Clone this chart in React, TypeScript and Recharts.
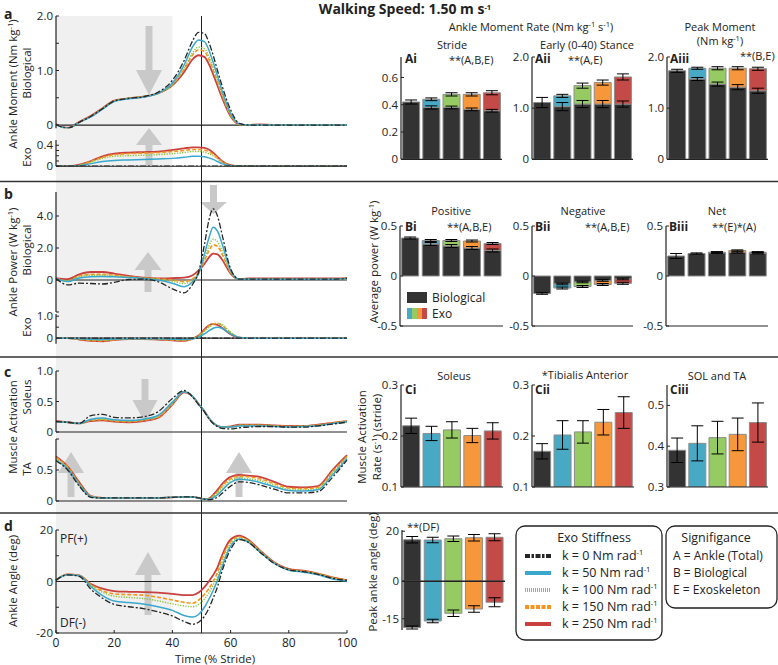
import React from "react";
import {
  LineChart,
  Line,
  XAxis,
  YAxis,
  ReferenceLine,
  BarChart,
  Bar,
  Cell,
  ErrorBar,
} from "recharts";

const FONT = '"Open Sans", "Noto Sans", sans-serif';
const INK = "#222";
const EDGE = "#8c8c8c";

const stride = [0, 4, 8, 12, 16, 20, 25, 30, 35, 40, 44, 47, 49, 51, 52.5, 54, 55.5, 57, 60, 63, 66, 70, 75, 80, 85, 90, 95, 100];

const stiffness = ["k = 0", "k = 50", "k = 100", "k = 150", "k = 250"];

// each list: k=0, 50, 100, 150, 250
const momentBio = [
  [0.01, -0.06, 0.05, 0.16, 0.3, 0.44, 0.49, 0.52, 0.6, 0.82, 1.18, 1.55, 1.7, 1.68, 1.52, 1.28, 1.0, 0.73, 0.28, 0.03, 0, 0, 0, 0, 0, 0, 0, 0],
  [0.01, -0.06, 0.05, 0.15, 0.29, 0.43, 0.48, 0.51, 0.58, 0.77, 1.1, 1.44, 1.56, 1.53, 1.38, 1.15, 0.9, 0.64, 0.22, 0.02, 0, 0, 0, 0, 0, 0, 0, 0],
  [0.01, -0.06, 0.05, 0.16, 0.3, 0.44, 0.49, 0.52, 0.58, 0.75, 1.04, 1.33, 1.43, 1.4, 1.26, 1.05, 0.82, 0.58, 0.19, 0.01, 0, 0, 0, 0, 0, 0, 0, 0],
  [0.01, -0.06, 0.05, 0.16, 0.3, 0.44, 0.49, 0.52, 0.58, 0.74, 1.02, 1.29, 1.38, 1.35, 1.21, 1.01, 0.79, 0.56, 0.18, 0.01, 0, 0, 0, 0, 0, 0, 0, 0],
  [0.02, -0.05, 0.06, 0.17, 0.31, 0.45, 0.49, 0.52, 0.58, 0.73, 0.97, 1.21, 1.28, 1.25, 1.12, 0.93, 0.72, 0.51, 0.16, 0.01, 0, 0.01, 0, 0, 0, 0, 0, 0],
];
const momentExo = [
  [0, 0, 0, 0, 0, 0, 0, 0, 0, 0, 0, 0, 0, 0, 0, 0, 0, 0, 0, 0, 0, 0, 0, 0, 0, 0, 0, 0],
  [0, 0, 0.01, 0.05, 0.09, 0.11, 0.12, 0.13, 0.14, 0.15, 0.17, 0.19, 0.19, 0.18, 0.16, 0.13, 0.09, 0.05, 0.01, 0, 0, 0, 0, 0, 0, 0, 0, 0],
  [0, 0, 0.02, 0.08, 0.15, 0.19, 0.2, 0.21, 0.22, 0.24, 0.26, 0.28, 0.28, 0.27, 0.24, 0.2, 0.14, 0.08, 0.01, 0, 0, 0, 0, 0, 0, 0, 0, 0],
  [0, 0, 0.02, 0.09, 0.17, 0.22, 0.24, 0.25, 0.26, 0.28, 0.3, 0.32, 0.32, 0.31, 0.28, 0.23, 0.16, 0.09, 0.01, 0, 0, 0, 0, 0, 0, 0, 0, 0],
  [0, 0, 0.03, 0.1, 0.19, 0.24, 0.26, 0.27, 0.28, 0.31, 0.34, 0.36, 0.36, 0.35, 0.32, 0.26, 0.18, 0.1, 0.02, 0, 0, 0, 0, 0, 0, 0, 0, 0],
];
const powerBio = [
  [0.1, -0.3, -0.2, -0.22, -0.25, -0.15, 0.03, 0.05, -0.1, -0.55, -0.8, -0.25, 0.5, 2.2, 3.7, 4.45, 4.0, 2.9, 0.7, 0.05, 0.05, 0.05, 0.05, 0.05, 0.05, 0.05, 0.05, 0.1],
  [0.1, -0.1, 0.12, 0.2, 0.22, 0.2, 0.15, 0.1, 0, -0.2, -0.42, -0.1, 0.4, 1.6, 2.6, 3.3, 3.05, 2.3, 0.6, 0.05, 0.05, 0.05, 0.05, 0.05, 0.05, 0.05, 0.05, 0.1],
  [0.1, -0.05, 0.2, 0.3, 0.3, 0.25, 0.18, 0.12, 0.05, -0.08, -0.22, 0, 0.45, 1.35, 2.1, 2.55, 2.4, 1.85, 0.5, 0.05, 0.05, 0.05, 0.05, 0.05, 0.05, 0.05, 0.05, 0.1],
  [0.1, -0.05, 0.25, 0.35, 0.35, 0.3, 0.2, 0.12, 0.08, 0, -0.1, 0.08, 0.45, 1.2, 1.8, 2.2, 2.1, 1.65, 0.45, 0.05, 0.05, 0.05, 0.05, 0.05, 0.05, 0.05, 0.05, 0.1],
  [0.12, 0.05, 0.35, 0.5, 0.5, 0.4, 0.25, 0.15, 0.1, 0.12, 0.15, 0.3, 0.6, 1.0, 1.4, 1.65, 1.6, 1.3, 0.4, 0.05, 0.1, 0.1, 0.1, 0.1, 0.1, 0.1, 0.1, 0.12],
];
const powerExo = [
  [0, 0, 0, 0, 0, 0, 0, 0, 0, 0, 0, 0, 0, 0, 0, 0, 0, 0, 0, 0, 0, 0, 0, 0, 0, 0, 0, 0],
  [0, 0, -0.02, -0.05, -0.06, -0.04, -0.02, -0.02, -0.03, -0.05, -0.06, -0.03, 0.05, 0.2, 0.33, 0.45, 0.5, 0.45, 0.2, 0.03, 0, 0, 0, 0, 0, 0, 0, 0],
  [0, 0, -0.04, -0.08, -0.1, -0.06, -0.03, -0.03, -0.04, -0.07, -0.08, -0.03, 0.08, 0.3, 0.48, 0.62, 0.68, 0.62, 0.28, 0.04, 0, 0, 0, 0, 0, 0, 0, 0],
  [0, 0, -0.05, -0.1, -0.12, -0.07, -0.03, -0.03, -0.05, -0.08, -0.1, -0.03, 0.1, 0.35, 0.55, 0.66, 0.67, 0.58, 0.24, 0.03, 0, 0, 0, 0, 0, 0, 0, 0],
  [0, 0, -0.06, -0.12, -0.14, -0.08, -0.04, -0.04, -0.06, -0.1, -0.12, -0.02, 0.12, 0.4, 0.58, 0.64, 0.6, 0.48, 0.18, 0.02, 0, 0, 0, 0, 0, 0, 0, 0],
];
const soleus = [
  [0.17, 0.16, 0.14, 0.27, 0.29, 0.24, 0.23, 0.25, 0.33, 0.55, 0.68, 0.57, 0.45, 0.33, 0.22, 0.14, 0.09, 0.06, 0.05, 0.07, 0.08, 0.09, 0.09, 0.08, 0.08, 0.1, 0.13, 0.16],
  [0.17, 0.16, 0.14, 0.21, 0.23, 0.2, 0.19, 0.21, 0.27, 0.49, 0.66, 0.58, 0.46, 0.34, 0.23, 0.15, 0.1, 0.08, 0.08, 0.1, 0.1, 0.1, 0.09, 0.08, 0.09, 0.1, 0.14, 0.17],
  [0.17, 0.16, 0.14, 0.2, 0.21, 0.19, 0.18, 0.2, 0.25, 0.47, 0.66, 0.58, 0.46, 0.34, 0.23, 0.15, 0.1, 0.08, 0.08, 0.11, 0.11, 0.11, 0.1, 0.09, 0.09, 0.11, 0.14, 0.17],
  [0.17, 0.16, 0.14, 0.19, 0.2, 0.18, 0.17, 0.19, 0.24, 0.46, 0.66, 0.58, 0.46, 0.34, 0.23, 0.15, 0.1, 0.08, 0.08, 0.11, 0.11, 0.11, 0.1, 0.09, 0.1, 0.11, 0.15, 0.18],
  [0.18, 0.16, 0.14, 0.18, 0.19, 0.17, 0.16, 0.18, 0.23, 0.45, 0.65, 0.58, 0.46, 0.34, 0.23, 0.15, 0.1, 0.08, 0.09, 0.12, 0.12, 0.12, 0.11, 0.1, 0.1, 0.12, 0.15, 0.18],
];
const tibialis = [
  [0.65, 0.5, 0.24, 0.06, 0.05, 0.05, 0.05, 0.05, 0.05, 0.06, 0.065, 0.065, 0.05, 0.03, 0.02, 0.03, 0.06, 0.12, 0.24, 0.31, 0.3, 0.26, 0.19, 0.13, 0.13, 0.15, 0.38, 0.66],
  [0.66, 0.52, 0.26, 0.07, 0.05, 0.05, 0.05, 0.05, 0.05, 0.06, 0.065, 0.065, 0.05, 0.03, 0.03, 0.05, 0.1, 0.17, 0.3, 0.35, 0.34, 0.3, 0.23, 0.17, 0.16, 0.18, 0.42, 0.68],
  [0.68, 0.53, 0.27, 0.07, 0.05, 0.05, 0.05, 0.05, 0.05, 0.06, 0.065, 0.065, 0.05, 0.03, 0.03, 0.07, 0.13, 0.21, 0.33, 0.37, 0.36, 0.33, 0.25, 0.19, 0.18, 0.2, 0.45, 0.7],
  [0.7, 0.55, 0.28, 0.08, 0.05, 0.05, 0.05, 0.05, 0.05, 0.06, 0.065, 0.065, 0.05, 0.03, 0.04, 0.08, 0.15, 0.24, 0.36, 0.4, 0.39, 0.36, 0.28, 0.21, 0.2, 0.22, 0.47, 0.72],
  [0.72, 0.56, 0.3, 0.08, 0.05, 0.05, 0.05, 0.05, 0.05, 0.06, 0.065, 0.065, 0.05, 0.03, 0.04, 0.1, 0.18, 0.27, 0.39, 0.42, 0.41, 0.39, 0.31, 0.23, 0.22, 0.24, 0.5, 0.74],
];
const angle = [
  [0.5, 2.6, 2.0, -3, -6.5, -8.9, -9.8, -10.5, -11.8, -13.4, -15.5, -16.6, -15.8, -13.5, -10.5, -6.5, -2, 3.8, 12.5, 16.3, 15.3, 11.5, 7, 4.5, 3.8, 2.8, 1.3, 0.4],
  [0.5, 2.6, 2.2, -2, -5.5, -7.6, -8.2, -8.7, -9.8, -11.2, -13.2, -13.8, -12.8, -10, -7, -3.5, 0.5, 5.5, 13.7, 16.5, 15.3, 11.5, 7, 4.4, 3.6, 2.6, 1, 0.2],
  [0.5, 2.7, 2.3, -1.5, -4.2, -5.7, -6.2, -6.6, -7.5, -8.7, -9.5, -9.8, -8.9, -6.8, -4.5, -1.5, 2, 7, 14.6, 17, 15.7, 11.8, 7.2, 4.6, 3.9, 2.9, 1.4, 0.4],
  [0.5, 2.7, 2.3, -1.2, -3.6, -4.8, -5.1, -5.3, -6.1, -7.2, -8.1, -8.4, -7.2, -5, -2.8, 0, 3.5, 8.5, 15.4, 17.3, 15.9, 12, 7.3, 4.7, 4, 3, 1.5, 0.5],
  [0.6, 2.8, 2.4, -1, -2.8, -3.7, -4, -4.1, -4.3, -4.8, -5.3, -5.3, -4.3, -2.2, 0, 2.5, 5.5, 10, 16.3, 17.8, 16.3, 12.2, 7.5, 4.9, 4.2, 3.1, 1.6, 0.5],
];

// bar panels
const strideRateBio = [0.42, 0.38, 0.38, 0.366, 0.356];
const strideRateExo = [0, 0.06, 0.096, 0.11, 0.132];
const strideRateBioErr = [0.015, 0.012, 0.01, 0.01, 0.01];
const strideRateExoErr = [0, 0.01, 0.012, 0.012, 0.015];
const earlyRateBio = [1.11, 1.03, 1.08, 1.08, 1.08];
const earlyRateExo = [0, 0.21, 0.36, 0.42, 0.53];
const earlyRateBioErr = [0.1, 0.08, 0.07, 0.07, 0.06];
const earlyRateExoErr = [0, 0.03, 0.05, 0.05, 0.06];
const peakMomBio = [1.73, 1.57, 1.47, 1.41, 1.34];
const peakMomExo = [0, 0.21, 0.31, 0.37, 0.43];
const peakMomBioErr = [0.03, 0.03, 0.04, 0.05, 0.05];
const peakMomExoErr = [0, 0.02, 0.03, 0.03, 0.03];
const posPowBio = [0.38, 0.32, 0.3, 0.28, 0.255];
const posPowExo = [0, 0.035, 0.055, 0.07, 0.07];
const posPowBioErr = [0.01, 0.015, 0.015, 0.015, 0.015];
const posPowExoErr = [0, 0.01, 0.01, 0.01, 0.01];
const negPowBio = [-0.175, -0.08, -0.06, -0.045, -0.03];
const negPowExo = [0, -0.04, -0.045, -0.04, -0.043];
const negPowBioErr = [0.008, 0.008, 0.008, 0.008, 0.008];
const negPowExoErr = [0, 0.01, 0.01, 0.01, 0.01];
const netPowBio = [0.2, 0.225, 0.232, 0.235, 0.228];
const netPowExo = [0, 0, 0.006, 0.02, 0.01];
const netPowBioErr = [0.025, 0.006, 0.006, 0.006, 0.006];
const netPowExoErr = [0, 0, 0.006, 0.006, 0.006];
const solRate = [0.22, 0.205, 0.212, 0.201, 0.21];
const solRateErr = [0.015, 0.014, 0.016, 0.014, 0.016];
const taRate = [0.17, 0.202, 0.208, 0.227, 0.246];
const taRateErr = [0.015, 0.028, 0.022, 0.025, 0.031];
const bothRate = [0.39, 0.407, 0.421, 0.429, 0.458];
const bothRateErr = [0.03, 0.043, 0.04, 0.04, 0.048];
const peakPF = [16.6, 16.5, 17, 17.4, 17.6];
const peakDF = [-18.5, -15.9, -12.8, -11.1, -8.4];
const peakPFErr = [1.3, 1.1, 1.1, 1.3, 1.4];
const peakDFErr = [0.6, 0.7, 1.3, 1.3, 1.8];

const LINE_STYLES = [
  { color: "#262626", dash: "6 2 2 2", width: 1.3 },
  { color: "#3aa7cd", dash: undefined, width: 1.5 },
  { color: "#8cc63f", dash: "1.3 1.3", width: 1.4 },
  { color: "#f7941e", dash: "4 2", width: 1.6 },
  { color: "#c8413e", dash: undefined, width: 1.8 },
];
const BAR_COLORS = ["#333333", "#48a9c5", "#96cb63", "#f7973b", "#c34a47"];

type Rect = { x0: number; x1: number; y0: number; y1: number };
const AXW = 40;
const AXH = 20;
const PAD = 10;

// place a chart so that its plot area lands on the rect (page px)
function frame(r: Rect, right = 6) {
  return {
    style: { position: "absolute", left: r.x0 - AXW, top: r.y0 - PAD } as React.CSSProperties,
    w: r.x1 - r.x0 + AXW + right,
    h: r.y1 - r.y0 + AXH + 2 * PAD,
    m: { top: PAD, right, bottom: PAD, left: 0 },
  };
}

const one = (v: number) => (v === 0 ? "0" : v.toFixed(1));
const int = (v: number) => String(v);
const TICK = { fontSize: 11.5, fill: INK };

function yAxis(domain: number[], ticks: number[], labels: number[], fmt: (v: number) => string) {
  return (
    <YAxis
      type="number"
      domain={domain}
      ticks={ticks}
      interval={0}
      allowDataOverflow
      width={AXW}
      axisLine={{ stroke: INK, strokeWidth: 1.2 }}
      tickLine={{ stroke: INK }}
      tickSize={-3}
      tickMargin={6}
      tick={TICK}
      tickFormatter={(v: number) => (labels.includes(v) ? fmt(v) : "")}
    />
  );
}

function Trace(props: {
  rect: Rect;
  series: number[][];
  domain: number[];
  ticks: number[];
  labels: number[];
  fmt: (v: number) => string;
  zero?: boolean;
  baseAxis?: boolean;
  timeLabels?: boolean;
}) {
  const { rect, series, domain, ticks, labels, fmt, zero, baseAxis, timeLabels } = props;
  const b = frame(rect, 16);
  const rows = stride.map((t, i) => {
    const row: Record<string, number> = { t };
    series.forEach((s, j) => (row["s" + j] = s[i]));
    return row;
  });
  return (
    <div style={b.style}>
      <LineChart width={b.w} height={b.h} margin={b.m} data={rows}>
        <XAxis
          type="number"
          dataKey="t"
          domain={[0, 100]}
          ticks={[0, 20, 40, 60, 80, 100]}
          interval={0}
          height={AXH}
          axisLine={baseAxis ? { stroke: INK, strokeWidth: 1.2 } : false}
          tickLine={baseAxis ? { stroke: INK } : false}
          tickSize={-3}
          tickMargin={8}
          tick={timeLabels ? { fontSize: 12, fill: INK } : false}
        />
        {yAxis(domain, ticks, labels, fmt)}
        {zero && <ReferenceLine y={0} stroke={INK} strokeWidth={1.2} />}
        {[4, 3, 2, 1, 0].map((j) => (
          <Line
            key={j}
            dataKey={"s" + j}
            type="monotone"
            stroke={LINE_STYLES[j].color}
            strokeWidth={LINE_STYLES[j].width}
            strokeDasharray={LINE_STYLES[j].dash}
            dot={false}
            isAnimationActive={false}
          />
        ))}
      </LineChart>
    </div>
  );
}

function Stacked(props: {
  rect: Rect;
  bio: number[];
  exo: number[];
  bioErr: number[];
  exoErr: number[];
  domain: number[];
  ticks: number[];
  fmt: (v: number) => string;
}) {
  const { rect, bio, exo, bioErr, exoErr, domain, ticks, fmt } = props;
  const b = frame(rect);
  const rows = stiffness.map((k, i) => ({ k, bio: bio[i], exo: exo[i], bioErr: bioErr[i], exoErr: exoErr[i] }));
  return (
    <div style={b.style}>
      <BarChart width={b.w} height={b.h} margin={b.m} data={rows} barCategoryGap="8%">
        <XAxis dataKey="k" height={AXH} tick={false} axisLine={{ stroke: INK, strokeWidth: 1.2 }} tickLine={{ stroke: INK }} tickSize={-3} />
        {yAxis(domain, ticks, ticks, fmt)}
        <Bar dataKey="bio" stackId="s" fill="#333333" stroke={EDGE} isAnimationActive={false}>
          <ErrorBar dataKey="bioErr" width={6} stroke="#000" strokeWidth={1} />
        </Bar>
        <Bar dataKey="exo" stackId="s" stroke={EDGE} isAnimationActive={false}>
          {rows.map((_, i) => (
            <Cell key={i} fill={BAR_COLORS[i]} />
          ))}
          <ErrorBar dataKey="exoErr" width={6} stroke="#000" strokeWidth={1} />
        </Bar>
      </BarChart>
    </div>
  );
}

function Single(props: { rect: Rect; vals: number[]; errs: number[]; domain: number[]; ticks: number[] }) {
  const { rect, vals, errs, domain, ticks } = props;
  const b = frame(rect);
  const rows = stiffness.map((k, i) => ({ k, v: vals[i], e: errs[i] }));
  return (
    <div style={b.style}>
      <BarChart width={b.w} height={b.h} margin={b.m} data={rows} barCategoryGap="8%">
        <XAxis dataKey="k" height={AXH} tick={false} axisLine={{ stroke: INK, strokeWidth: 1.2 }} tickLine={{ stroke: INK }} tickSize={-3} />
        {yAxis(domain, ticks, ticks, one)}
        <Bar dataKey="v" stroke={EDGE} isAnimationActive={false}>
          {rows.map((_, i) => (
            <Cell key={i} fill={BAR_COLORS[i]} />
          ))}
          <ErrorBar dataKey="e" width={6} stroke="#000" strokeWidth={1} />
        </Bar>
      </BarChart>
    </div>
  );
}

function PeakAngle({ rect }: { rect: Rect }) {
  const b = frame(rect);
  const rows = stiffness.map((k, i) => ({ k, pf: peakPF[i], df: peakDF[i], pfe: peakPFErr[i], dfe: peakDFErr[i] }));
  return (
    <div style={b.style}>
      <BarChart width={b.w} height={b.h} margin={b.m} data={rows} barCategoryGap="8%" stackOffset="sign">
        <XAxis dataKey="k" height={AXH} tick={false} axisLine={false} tickLine={false} />
        {yAxis([-19.5, 20.5], [-15, 0, 20], [-15, 0, 20], int)}
        <Bar dataKey="pf" stackId="p" stroke={EDGE} isAnimationActive={false}>
          {rows.map((_, i) => (
            <Cell key={i} fill={BAR_COLORS[i]} />
          ))}
          <ErrorBar dataKey="pfe" width={6} stroke="#000" strokeWidth={1} />
        </Bar>
        <Bar dataKey="df" stackId="p" stroke={EDGE} isAnimationActive={false}>
          {rows.map((_, i) => (
            <Cell key={i} fill={BAR_COLORS[i]} />
          ))}
          <ErrorBar dataKey="dfe" width={6} stroke="#000" strokeWidth={1} />
        </Bar>
        <ReferenceLine y={0} stroke={INK} strokeWidth={1.5} />
      </BarChart>
    </div>
  );
}

function arrow(cx: number, tail: number, head: number, tip: number, hw = 13, sw = 3.5) {
  return [
    [cx - sw, tail],
    [cx + sw, tail],
    [cx + sw, head],
    [cx + hw, head],
    [cx, tip],
    [cx - hw, head],
    [cx - sw, head],
  ]
    .map((p) => p.join(","))
    .join(" ");
}

const sup = (s: string, tail = "", d = 4) => (
  <>
    <tspan dy={-d} fontSize={7.5}>
      {s}
    </tspan>
    <tspan dy={d}>{tail}</tspan>
  </>
);

function Rot({ x, y, children, size = 11.5 }: { x: number; y: number; children: React.ReactNode; size?: number }) {
  return (
    <text transform={`translate(${x},${y}) rotate(-90)`} textAnchor="middle" fontSize={size} fill={INK}>
      {children}
    </text>
  );
}

function T({ x, y, children, anchor = "middle", size = 11, bold = false }: any) {
  return (
    <text x={x} y={y} textAnchor={anchor} fontSize={size} fontWeight={bold ? 700 : 400} fill={INK}>
      {children}
    </text>
  );
}

const SHADE_X0 = 56;
const SHADE_X1 = 172.4;
const MID_X = 201.5;

export default function App() {
  const legendRows = [0, 1, 2, 3, 4];
  const stiffVals = ["0", "50", "100", "150", "250"];
  return (
    <div style={{ position: "absolute", left: 0, top: 0, width: 778, height: 665, background: "#fff", fontFamily: FONT, color: INK }}>
      <svg width={778} height={665} style={{ position: "absolute", left: 0, top: 0 }}>
        <rect x={SHADE_X0} y={16} width={SHADE_X1 - SHADE_X0} height={617} fill="#f0f0f0" />
        <g fill="#c9c9c9">
          <polygon points={arrow(149, 26, 70, 95)} />
          <polygon points={arrow(149, 165, 145, 128)} />
          <polygon points={arrow(213.5, 185, 202, 214, 13.5)} />
          <polygon points={arrow(148, 292, 270, 252, 13.5)} />
          <polygon points={arrow(145, 379, 400, 423, 12.5)} />
          <polygon points={arrow(71, 497, 473, 452)} />
          <polygon points={arrow(239, 497, 473, 452)} />
          <polygon points={arrow(148, 615, 575, 552)} />
        </g>
        <line x1={MID_X} x2={MID_X} y1={16} y2={633} stroke={INK} strokeWidth={1} />
      </svg>

      <Trace rect={{ x0: 56, x1: 347, y0: 16, y1: 128.3 }} series={momentBio} domain={[-0.06, 2]} ticks={[0, 0.5, 1, 1.5, 2]} labels={[0, 1, 2]} fmt={one} zero />
      <Trace rect={{ x0: 56, x1: 347, y0: 139.75, y1: 166 }} series={momentExo} domain={[0, 0.5]} ticks={[0, 0.1, 0.2, 0.3, 0.4]} labels={[0, 0.4]} fmt={one} baseAxis />
      <Trace rect={{ x0: 56, x1: 347, y0: 192, y1: 312 }} series={powerBio} domain={[-2, 5.5]} ticks={[-2, 0, 2, 4]} labels={[0, 2, 4]} fmt={one} zero />
      <Trace rect={{ x0: 56, x1: 347, y0: 313.8, y1: 343.5 }} series={powerExo} domain={[-0.25, 1.1]} ticks={[0, 0.5, 1]} labels={[0, 1]} fmt={one} zero />
      <Trace rect={{ x0: 56, x1: 347, y0: 371, y1: 432 }} series={soleus} domain={[0, 1]} ticks={[0, 0.5, 1]} labels={[0, 0.5, 1]} fmt={one} baseAxis />
      <Trace rect={{ x0: 56, x1: 347, y0: 439, y1: 501 }} series={tibialis} domain={[0, 1]} ticks={[0, 0.5, 1]} labels={[0, 0.5]} fmt={one} baseAxis />
      <Trace rect={{ x0: 56, x1: 347, y0: 530, y1: 633 }} series={angle} domain={[-20, 20]} ticks={[-20, -10, 0, 10, 20]} labels={[-20, 0, 20]} fmt={int} zero baseAxis timeLabels />

      <Stacked rect={{ x0: 401, x1: 502, y0: 57, y1: 159.3 }} bio={strideRateBio} exo={strideRateExo} bioErr={strideRateBioErr} exoErr={strideRateExoErr} domain={[0, 0.75]} ticks={[0, 0.2, 0.4, 0.6]} fmt={one} />
      <Stacked rect={{ x0: 532, x1: 633, y0: 57, y1: 159.3 }} bio={earlyRateBio} exo={earlyRateExo} bioErr={earlyRateBioErr} exoErr={earlyRateExoErr} domain={[0, 2]} ticks={[0, 1, 2]} fmt={one} />
      <Stacked rect={{ x0: 667, x1: 768, y0: 57, y1: 159.3 }} bio={peakMomBio} exo={peakMomExo} bioErr={peakMomBioErr} exoErr={peakMomExoErr} domain={[0, 2]} ticks={[0, 1, 2]} fmt={one} />
      <Stacked rect={{ x0: 400, x1: 503, y0: 226, y1: 326 }} bio={posPowBio} exo={posPowExo} bioErr={posPowBioErr} exoErr={posPowExoErr} domain={[-0.5, 0.5]} ticks={[-0.5, 0, 0.5]} fmt={one} />
      <Stacked rect={{ x0: 532, x1: 633, y0: 226, y1: 326 }} bio={negPowBio} exo={negPowExo} bioErr={negPowBioErr} exoErr={negPowExoErr} domain={[-0.5, 0.5]} ticks={[-0.5, 0, 0.5]} fmt={one} />
      <Stacked rect={{ x0: 666, x1: 768, y0: 226, y1: 326 }} bio={netPowBio} exo={netPowExo} bioErr={netPowBioErr} exoErr={netPowExoErr} domain={[-0.5, 0.5]} ticks={[-0.5, 0, 0.5]} fmt={one} />
      <Single rect={{ x0: 401, x1: 503, y0: 385, y1: 487 }} vals={solRate} errs={solRateErr} domain={[0.1, 0.3]} ticks={[0.1, 0.2, 0.3]} />
      <Single rect={{ x0: 532, x1: 634, y0: 385, y1: 487 }} vals={taRate} errs={taRateErr} domain={[0.1, 0.3]} ticks={[0.1, 0.2, 0.3]} />
      <Single rect={{ x0: 667, x1: 768, y0: 385, y1: 487 }} vals={bothRate} errs={bothRateErr} domain={[0.3, 0.55]} ticks={[0.3, 0.4, 0.5]} />
      <PeakAngle rect={{ x0: 402, x1: 505, y0: 530, y1: 630 }} />

      <svg width={778} height={665} style={{ position: "absolute", left: 0, top: 0, pointerEvents: "none" }} fontFamily={FONT}>
        <g stroke="#333" strokeWidth={1.5}>
          <line x1={0} x2={778} y1={181.5} y2={181.5} />
          <line x1={0} x2={778} y1={357} y2={357} />
          <line x1={0} x2={778} y1={513} y2={513} />
        </g>

        <T x={4} y={19} anchor="start" size={14} bold>a</T>
        <T x={4} y={199} anchor="start" size={14} bold>b</T>
        <T x={4} y={377} anchor="start" size={14} bold>c</T>
        <T x={4} y={531} anchor="start" size={14} bold>d</T>

        <Rot x={17} y={84}>Ankle Moment (Nm kg{sup("-1", ")")}</Rot>
        <Rot x={31} y={73}>Biological</Rot>
        <Rot x={31} y={157}>Exo</Rot>
        <Rot x={17} y={262}>Ankle Power (W kg{sup("-1", ")")}</Rot>
        <Rot x={31} y={250}>Biological</Rot>
        <Rot x={31} y={327}>Exo</Rot>
        <Rot x={17} y={427}>Muscle Activation</Rot>
        <Rot x={31} y={397}>Soleus</Rot>
        <Rot x={31} y={469}>TA</Rot>
        <Rot x={17} y={581}>Ankle Angle (deg)</Rot>
        <T x={60} y={543} anchor="start" size={12}>PF(+)</T>
        <T x={60} y={627} anchor="start" size={12}>DF(-)</T>
        <T x={215} y={663} size={11.5}>Time (% Stride)</T>

        <T x={405} y={14} size={14} bold>
          Walking Speed: 1.50 m s{sup("-1", "", 4)}
        </T>
        <T x={531} y={31}>
          Ankle Moment Rate (Nm kg{sup("-1", "  s")}
          {sup("-1", ")")}
        </T>
        <T x={452} y={49}>Stride</T>
        <T x={449} y={64} anchor="start">**(A,B,E)</T>
        <T x={587} y={49}>Early (0-40) Stance</T>
        <T x={568} y={64} anchor="start">**(A,E)</T>
        <T x={720} y={31}>Peak Moment</T>
        <T x={720} y={45}>(Nm kg{sup("-1", ")")}</T>
        <T x={740} y={60} anchor="start">**(B,E)</T>
        <T x={405} y={63} anchor="start" size={12} bold>Ai</T>
        <T x={535} y={63} anchor="start" size={12} bold>Aii</T>
        <T x={670} y={63} anchor="start" size={12} bold>Aiii</T>

        <T x={451} y={215}>Positive</T>
        <T x={447} y={231} anchor="start">**(A,B,E)</T>
        <T x={583} y={215}>Negative</T>
        <T x={585} y={231} anchor="start">**(A,B,E)</T>
        <T x={717} y={215}>Net</T>
        <T x={712} y={231} anchor="start">**(E)*(A)</T>
        <T x={405} y={231} anchor="start" size={12} bold>Bi</T>
        <T x={535} y={231} anchor="start" size={12} bold>Bii</T>
        <T x={669} y={231} anchor="start" size={12} bold>Biii</T>
        <Rot x={378} y={262}>Average power (W kg{sup("-1", ")")}</Rot>
        <rect x={407} y={292} width={20} height={11} fill="#333" />
        {[0, 1, 2, 3].map((i) => (
          <rect key={i} x={407 + i * 5} y={308} width={5} height={11} fill={BAR_COLORS[i + 1]} />
        ))}
        <T x={432} y={302} anchor="start" size={12}>Biological</T>
        <T x={432} y={318} anchor="start" size={12}>Exo</T>

        <T x={454} y={380}>Soleus</T>
        <T x={585} y={379}>*Tibialis Anterior</T>
        <T x={717} y={380}>SOL and TA</T>
        <T x={405} y={394} anchor="start" size={12} bold>Ci</T>
        <T x={535} y={394} anchor="start" size={12} bold>Cii</T>
        <T x={670} y={394} anchor="start" size={12} bold>Ciii</T>
        <Rot x={366} y={437}>Muscle Activation</Rot>
        <Rot x={381} y={437}>Rate (s{sup("-1", ") (stride)")}</Rot>

        <T x={407} y={531} anchor="start">**(DF)</T>
        <Rot x={377} y={572}>Peak ankle angle (deg)</Rot>

        <rect x={516} y={526} width={146} height={114} rx={9} fill="#fff" stroke={INK} strokeWidth={1.3} />
        <T x={594} y={542} size={12.5}>Exo Stiffness</T>
        {legendRows.map((i) => (
          <g key={i}>
            <line
              x1={525}
              x2={551}
              y1={556 + i * 17}
              y2={556 + i * 17}
              stroke={LINE_STYLES[i].color}
              strokeWidth={4}
              strokeDasharray={i === 0 ? "5 1.5 2.5 1.5" : i === 2 ? "1 1" : i === 3 ? "4 1.5" : undefined}
            />
            <T x={562} y={560 + i * 17} anchor="start" size={12.5}>
              k = {stiffVals[i]} Nm rad{sup("-1", "", 5)}
            </T>
          </g>
        ))}
        <rect x={666} y={526} width={111} height={82} rx={9} fill="#fff" stroke={INK} strokeWidth={1.3} />
        <T x={716} y={542} size={12.5}>Signifigance</T>
        <T x={673} y={560} anchor="start" size={12}>A = Ankle (Total)</T>
        <T x={673} y={577} anchor="start" size={12}>B = Biological</T>
        <T x={673} y={594} anchor="start" size={12}>E = Exoskeleton</T>
      </svg>
    </div>
  );
}
